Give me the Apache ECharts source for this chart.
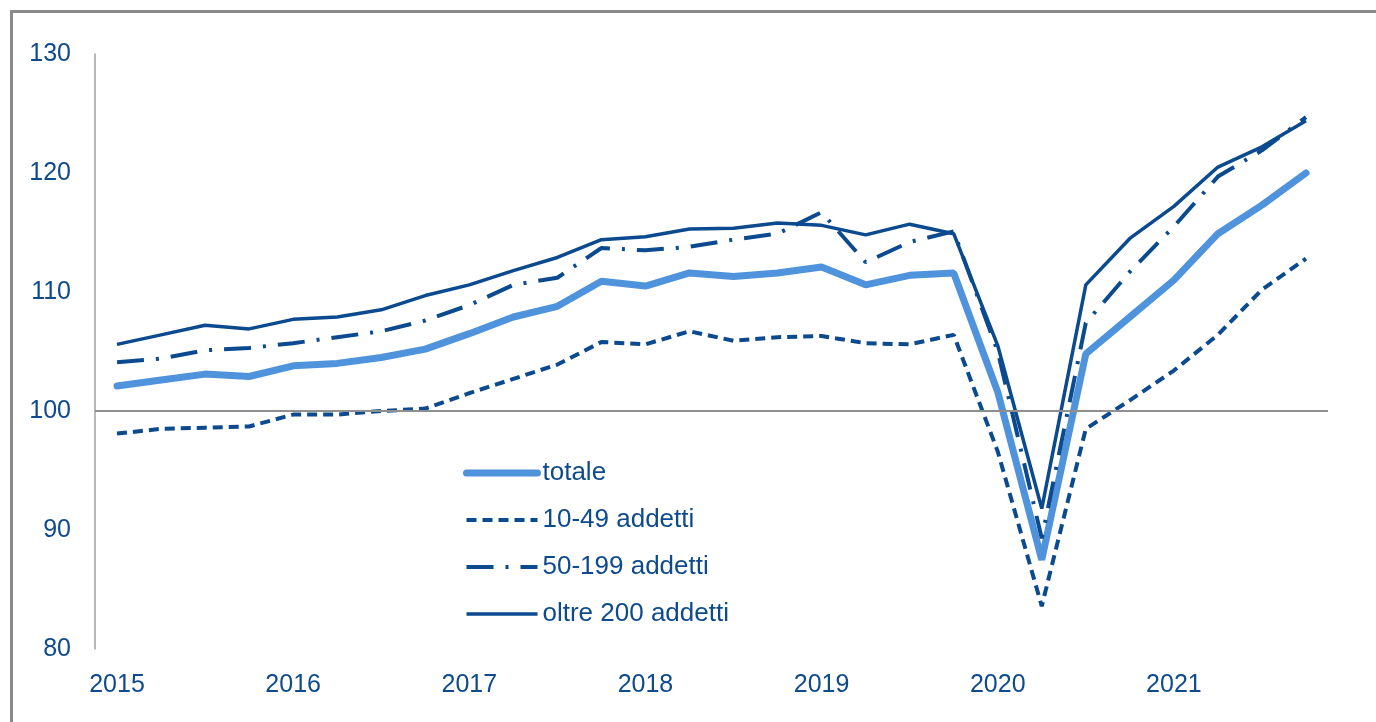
<!DOCTYPE html>
<html>
<head>
<meta charset="utf-8">
<script src="https://cdn.jsdelivr.net/npm/echarts@6/dist/echarts.min.js"></script>
<style>
  html, body { margin: 0; padding: 0; background: #fff; }
  #chart { width: 1376px; height: 722px; }
</style>
</head>
<body>
<div id="chart"></div>
<script>
// quarterly index, 2015 = 100
const quarters = [
    '2015T1','2015T2','2015T3','2015T4',
    '2016T1','2016T2','2016T3','2016T4',
    '2017T1','2017T2','2017T3','2017T4',
    '2018T1','2018T2','2018T3','2018T4',
    '2019T1','2019T2','2019T3','2019T4',
    '2020T1','2020T2','2020T3','2020T4',
    '2021T1','2021T2','2021T3','2021T4'
];
const totale = [102.1, 102.6, 103.1, 102.9, 103.8, 104.0, 104.5, 105.2, 106.5, 107.9, 108.8, 110.9, 110.5, 111.6, 111.3, 111.6, 112.1, 110.6, 111.4, 111.6, 101.6, 87.5, 104.8, 107.9, 111.0, 114.9, 117.3, 120.0];
const addetti10_49 = [98.1, 98.5, 98.6, 98.7, 99.7, 99.7, 100.0, 100.2, 101.5, 102.7, 103.9, 105.8, 105.6, 106.7, 105.9, 106.2, 106.3, 105.7, 105.6, 106.4, 96.6, 83.6, 98.5, 100.9, 103.4, 106.4, 110.2, 112.8];
const addetti50_199 = [104.1, 104.4, 105.1, 105.3, 105.7, 106.2, 106.7, 107.6, 108.9, 110.6, 111.2, 113.7, 113.5, 113.8, 114.4, 114.9, 116.7, 112.5, 114.2, 115.1, 105.0, 89.3, 107.4, 111.7, 115.5, 119.7, 121.9, 124.7];
const oltre200 = [105.6, 106.4, 107.2, 106.9, 107.7, 107.9, 108.5, 109.7, 110.6, 111.8, 112.9, 114.4, 114.65, 115.3, 115.35, 115.8, 115.6, 114.8, 115.7, 114.9, 105.5, 91.8, 110.6, 114.5, 117.2, 120.5, 122.2, 124.4];
const seriesNames = ['totale', '10-49 addetti', '50-199 addetti', 'oltre 200 addetti'];

const darkBlue = '#0b4a8f';
const lightBlue = '#4f93dc';
const textColor = '#0d4a8e';

// line styles shared by series and legend icons
const styles = {
    'totale': { color: lightBlue, width: 7, type: 'solid', cap: 'round' },
    '10-49 addetti': { color: darkBlue, width: 4, type: [10, 6] },
    '50-199 addetti': { color: darkBlue, width: 4, type: [27, 12, 3, 12] },
    'oltre 200 addetti': { color: darkBlue, width: 3.5, type: 'solid' }
};

const chart = echarts.init(document.getElementById('chart'), null, { renderer: 'canvas' });

const option = {
    animation: false,
    textStyle: { fontFamily: 'Liberation Sans, Arial, sans-serif' },
    graphic: [{
        type: 'rect',
        shape: { x: 11.5, y: 11.5, width: 1400, height: 800 },
        style: { fill: 'none', stroke: '#8a8a8a', lineWidth: 3 },
        silent: true
    }],
    grid: { left: 95, right: 48, top: 54, bottom: 73, containLabel: false },
    legend: {
        orient: 'vertical',
        left: 458,
        top: 455,
        itemWidth: 71,
        itemHeight: 20,
        itemGap: 21,
        itemStyle: { opacity: 0 },
        data: seriesNames.map(function (n) {
            return { name: n, lineStyle: styles[n], itemStyle: { opacity: 0 } };
        }),
        textStyle: { color: textColor, fontSize: 26, lineHeight: 26 }
    },
    xAxis: {
        type: 'category',
        data: quarters,
        boundaryGap: true,
        axisLine: { show: false },
        axisTick: { show: false },
        splitLine: { show: false },
        axisLabel: {
            interval: 3,
            color: textColor,
            fontSize: 25,
            margin: 24,
            formatter: function (value) { return value.slice(0, 4); }
        }
    },
    yAxis: {
        type: 'value',
        min: 80,
        max: 130,
        interval: 10,
        axisLine: { show: true, lineStyle: { color: '#a0a0a0', width: 1.5 } },
        axisTick: { show: false },
        splitLine: { show: false },
        axisLabel: { color: textColor, fontSize: 25, margin: 24 }
    },
    series: [
        {
            name: 'totale', type: 'line', data: totale, symbol: 'none',
            lineStyle: styles['totale'],
            itemStyle: { color: lightBlue },
            markLine: {
                silent: true, symbol: 'none', label: { show: false },
                lineStyle: { color: '#8f8f8f', width: 2, type: 'solid' },
                data: [{ yAxis: 100 }]
            }
        },
        {
            name: '10-49 addetti', type: 'line', data: addetti10_49, symbol: 'none',
            lineStyle: styles['10-49 addetti'],
            itemStyle: { color: darkBlue }
        },
        {
            name: '50-199 addetti', type: 'line', data: addetti50_199, symbol: 'none',
            lineStyle: styles['50-199 addetti'],
            itemStyle: { color: darkBlue }
        },
        {
            name: 'oltre 200 addetti', type: 'line', data: oltre200, symbol: 'none',
            lineStyle: styles['oltre 200 addetti'],
            itemStyle: { color: darkBlue }
        }
    ]
};

chart.setOption(option);
window.addEventListener('resize', function () { chart.resize(); });
</script>
</body>
</html>
